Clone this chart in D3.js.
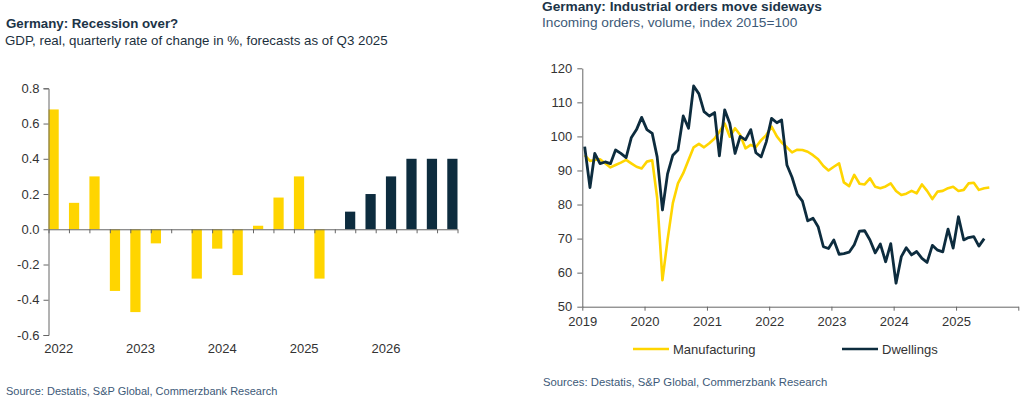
<!DOCTYPE html>
<html>
<head>
<meta charset="utf-8">
<script src="https://cdn.jsdelivr.net/npm/d3@7"></script>
<style>
  html, body { margin: 0; padding: 0; background: #fff; }
  svg { display: block; font-family: "Liberation Sans", Arial, sans-serif; }
  .title { font-weight: bold; fill: #1c3447; }
  .sub { fill: #1c2f3d; }
  .src { fill: #3d5a78; }
  .axis text { fill: #333; font-size: 13px; font-family: "Liberation Sans", Arial, sans-serif; }
  .axis path, .axis line { stroke: #666; }
</style>
</head>
<body>
<div id="chart"></div>
<script>
// ---- left chart: GDP, quarterly change in % ----
const quarters = ['2022Q1','2022Q2','2022Q3','2022Q4','2023Q1','2023Q2','2023Q3','2023Q4',
  '2024Q1','2024Q2','2024Q3','2024Q4','2025Q1','2025Q2','2025Q3','2025Q4',
  '2026Q1','2026Q2','2026Q3','2026Q4'];
const gdpActual = [0.68, 0.15, 0.3, -0.35, -0.47, -0.08, 0.0, -0.28,
  -0.11, -0.26, 0.02, 0.18, 0.3, -0.28, null, null, null, null, null, null];
const gdpForecast = [null, null, null, null, null, null, null, null,
  null, null, null, null, null, null, 0.1, 0.2, 0.3, 0.4, 0.4, 0.4];
const gdpTicks = [-0.6, -0.4, -0.2, 0, 0.2, 0.4, 0.6, 0.8];

// ---- right chart: incoming orders, monthly from Jan 2019 ----
const manufacturing = [94.5, 92.8, 93.1, 93.3, 92.1, 90.9, 91.6, 92.3, 93.1, 92.1, 91.1, 90.6,
  92.6, 93.0, 82.0, 57.8, 69.6, 80.4, 86.2, 89.2, 93.1, 96.8, 97.8, 96.8,
  98.0, 99.4, 101.4, 103.8, 99.9, 102.4, 100.4, 96.5, 97.5, 96.9, 98.9, 100.4,
  102.9, 100.0, 98.2, 96.8, 95.3, 96.1, 96.0, 95.5, 94.5, 93.3, 91.3, 90.0,
  91.1, 92.1, 86.5, 85.4, 88.7, 86.1, 85.9, 87.7, 85.2, 84.8, 85.3, 86.2,
  84.0, 82.8, 83.2, 84.0, 83.3, 85.9, 84.0, 81.6, 83.8, 84.0, 84.8, 85.2,
  84.0, 84.3, 86.2, 86.4, 84.3, 84.8, 85.0];
const dwellings = [97.0, 85.0, 95.0, 92.0, 92.5, 92.0, 96.0, 95.0, 93.8, 99.6, 102.0, 105.6,
  102.0, 100.9, 94.0, 78.4, 89.0, 94.5, 96.0, 106.0, 102.4, 114.8, 112.5, 107.3,
  106.0, 107.0, 94.3, 107.8, 103.8, 95.0, 100.0, 99.0, 102.0, 95.2, 94.0, 98.4,
  105.3, 104.0, 104.8, 91.6, 88.0, 83.0, 81.0, 75.2, 76.0, 73.5, 67.6, 67.1,
  69.6, 65.4, 65.6, 66.0, 68.2, 72.2, 72.3, 69.6, 65.8, 68.4, 63.2, 68.5,
  56.9, 64.7, 67.3, 65.2, 66.2, 64.2, 63.0, 68.0, 66.6, 66.1, 72.8, 67.2,
  76.4, 69.6, 70.3, 70.6, 67.8, 70.0];
const ordersTicks = [50, 60, 70, 80, 90, 100, 110, 120];

const YELLOW = '#ffd500';
const NAVY = '#0d2c3e';

const svg = d3.select('#chart').append('svg')
  .attr('width', 1024)
  .attr('height', 398);

// titles
svg.append('text').attr('class', 'title').attr('x', 6).attr('y', 28).style('font-size', '13.3px')
  .text('Germany: Recession over?');
svg.append('text').attr('class', 'sub').attr('x', 5).attr('y', 45).style('font-size', '13.3px')
  .text('GDP, real, quarterly rate of change in %, forecasts as of Q3 2025');
svg.append('text').attr('class', 'title').attr('x', 542).attr('y', 11).style('font-size', '13.7px')
  .text('Germany: Industrial orders move sideways');
svg.append('text').attr('class', 'sub').attr('x', 542).attr('y', 27).style('font-size', '13.7px')
  .style('fill', '#3d5a78')
  .text('Incoming orders, volume, index 2015=100');
svg.append('text').attr('class', 'src').attr('x', 6).attr('y', 395).style('font-size', '11px')
  .text('Source: Destatis, S&P Global, Commerzbank Research');
svg.append('text').attr('class', 'src').attr('x', 543).attr('y', 386).style('font-size', '11.3px')
  .text('Sources: Destatis, S&P Global, Commerzbank Research');

// ---------- left chart ----------
const left = svg.append('g');
const x0 = d3.scaleBand().domain(quarters).range([48.5, 457.5]).padding(0);
const x1 = d3.scaleBand().domain(['actual', 'forecast']).range([0, x0.bandwidth()]).padding(0);
const yL = d3.scaleLinear().domain([-0.6, 0.8]).range([335, 88.3]);

left.selectAll('.bar-a')
  .data(quarters.map((q, i) => ({q, v: gdpActual[i]})).filter(d => d.v !== null))
  .join('rect')
  .attr('class', 'bar-a')
  .attr('x', d => x0(d.q) + x1('actual'))
  .attr('width', x1.bandwidth())
  .attr('y', d => yL(Math.max(0, d.v)))
  .attr('height', d => Math.abs(yL(d.v) - yL(0)))
  .attr('fill', YELLOW);

left.selectAll('.bar-f')
  .data(quarters.map((q, i) => ({q, v: gdpForecast[i]})).filter(d => d.v !== null))
  .join('rect')
  .attr('class', 'bar-f')
  .attr('x', d => x0(d.q) + x1('forecast'))
  .attr('width', x1.bandwidth())
  .attr('y', d => yL(Math.max(0, d.v)))
  .attr('height', d => Math.abs(yL(d.v) - yL(0)))
  .attr('fill', NAVY);

left.append('g').attr('class', 'axis')
  .attr('transform', 'translate(48.5,0)')
  .call(d3.axisLeft(yL).tickValues(gdpTicks).tickSize(5).tickPadding(4))
  .call(g => g.selectAll('.tick text').text(d => d3.format('.1f')(d).replace('−', '-')));

// zero line with ticks at category boundaries
const xIdx = d3.scaleLinear().domain([0, quarters.length]).range(x0.range());
left.append('g').attr('class', 'axis')
  .attr('transform', `translate(0,${yL(0)})`)
  .call(d3.axisBottom(xIdx).tickValues(d3.range(quarters.length + 1)).tickSize(4).tickSizeOuter(0).tickFormat(''));

// year labels under Q1
left.append('g').attr('class', 'axis')
  .attr('transform', 'translate(0,344)')
  .call(d3.axisBottom(x0).tickValues(quarters.filter(q => q.endsWith('Q1'))).tickSize(0).tickPadding(0)
    .tickFormat(q => q.slice(0, 4)))
  .call(g => g.select('.domain').remove());

// ---------- right chart ----------
const right = svg.append('g');
const months = manufacturing.map((_, i) => new Date(2019, i, 15));
const xR = d3.scaleTime().domain([new Date(2019, 0, 1), new Date(2026, 0, 1)]).range([582.3, 1018.3]);
const yR = d3.scaleLinear().domain([50, 120]).range([306.7, 68.3]);

right.append('g').attr('class', 'axis')
  .attr('transform', 'translate(582.3,0)')
  .call(d3.axisLeft(yR).tickValues(ordersTicks).tickSize(5).tickPadding(5).tickSizeOuter(0));

right.append('g').attr('class', 'axis')
  .attr('transform', `translate(0,${yR(50)})`)
  .call(d3.axisBottom(xR).ticks(d3.timeYear.every(1)).tickSize(4).tickPadding(6).tickSizeOuter(0)
    .tickFormat(d3.timeFormat('%Y')))
  .call(g => g.selectAll('.tick').filter(d => d.getFullYear() === 2026).select('text').remove());

const line = d3.line()
  .x((d, i) => xR(months[i]))
  .y(d => yR(d));

right.append('path')
  .datum(manufacturing)
  .attr('fill', 'none')
  .attr('stroke', YELLOW)
  .attr('stroke-width', 2.6)
  .attr('stroke-linejoin', 'round')
  .attr('d', line);

right.append('path')
  .datum(dwellings)
  .attr('fill', 'none')
  .attr('stroke', NAVY)
  .attr('stroke-width', 2.8)
  .attr('stroke-linejoin', 'round')
  .attr('d', line);

// legend
const legend = [
  {name: 'Manufacturing', color: YELLOW, x: 633},
  {name: 'Dwellings', color: NAVY, x: 842}
];
const lg = right.selectAll('.legend').data(legend).join('g')
  .attr('class', 'legend')
  .attr('transform', d => `translate(${d.x},349)`);
lg.append('line').attr('x1', 0).attr('x2', 36).attr('stroke', d => d.color).attr('stroke-width', 2.6);
lg.append('text').attr('x', 40).attr('dy', '0.35em')
  .style('font-size', '13px').style('fill', '#333')
  .text(d => d.name);
</script>
</body>
</html>
